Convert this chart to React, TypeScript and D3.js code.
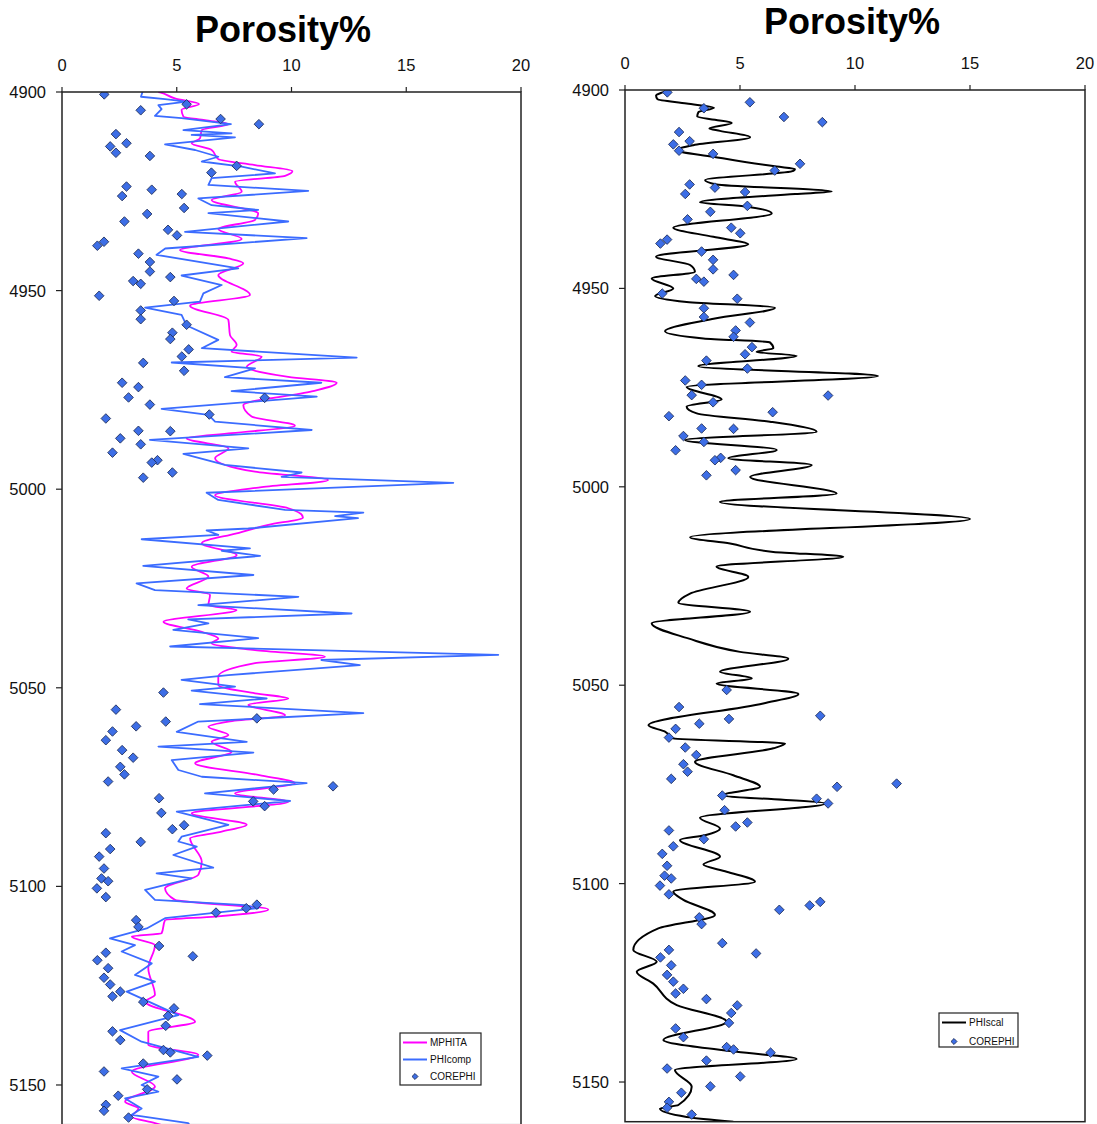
import React from 'react';
import * as d3 from 'd3';

const DEPTH_TICKS = [4900, 4950, 5000, 5050, 5100, 5150];
const POROSITY_TICKS = [0, 5, 10, 15, 20];
const TITLE = 'Porosity%';

// [depth, porosity]
const COREPHI: [number, number][] = [
  [4900.6, 1.84], [4903.1, 5.43], [4904.6, 3.43], [4906.8, 6.91], [4908.1, 8.58], [4910.6, 2.35],
  [4912.9, 2.81], [4913.7, 2.1], [4915.3, 2.35], [4916.1, 3.83], [4918.6, 7.61], [4920.3, 6.51],
  [4923.8, 2.81], [4924.6, 3.91], [4925.7, 5.22], [4926.2, 2.62], [4929.2, 5.32], [4930.7, 3.71],
  [4932.6, 2.72], [4934.7, 4.62], [4936.1, 5.01], [4937.7, 1.83], [4938.7, 1.54], [4940.7, 3.33],
  [4942.8, 3.83], [4945.2, 3.83], [4946.6, 4.72], [4947.6, 3.1], [4948.3, 3.43], [4951.3, 1.62],
  [4952.6, 4.88], [4955.0, 3.43], [4957.2, 3.43], [4958.6, 5.43], [4960.6, 4.81], [4962.2, 4.72],
  [4964.8, 5.52], [4966.6, 5.22], [4968.2, 3.54], [4970.2, 5.32], [4973.2, 2.62], [4974.3, 3.33],
  [4976.9, 2.9], [4977.0, 8.83], [4978.7, 3.83], [4981.2, 6.42], [4982.2, 1.91], [4985.3, 3.33],
  [4985.4, 4.72], [4987.2, 2.54], [4988.7, 3.43], [4990.8, 2.2], [4992.7, 4.16], [4993.3, 3.91],
  [4995.8, 4.81], [4997.1, 3.54], [5051.2, 4.42], [5055.5, 2.35], [5057.7, 8.49], [5058.5, 4.52],
  [5059.7, 3.23], [5061.0, 2.2], [5063.2, 1.91], [5065.7, 2.62], [5067.6, 3.1], [5069.9, 2.54],
  [5071.8, 2.72], [5073.6, 2.01], [5074.8, 11.81], [5075.6, 9.22], [5077.8, 4.23], [5078.6, 8.33],
  [5079.8, 8.83], [5081.5, 4.33], [5084.6, 5.32], [5085.6, 4.81], [5086.6, 1.91], [5088.8, 3.43],
  [5090.6, 2.1], [5092.5, 1.62], [5095.5, 1.83], [5098.0, 1.72], [5098.7, 2.01], [5100.5, 1.52],
  [5102.7, 1.91], [5104.6, 8.49], [5105.5, 8.03], [5106.6, 6.71], [5108.5, 3.23], [5110.2, 3.33],
  [5115.0, 4.23], [5116.7, 1.91], [5117.6, 5.7], [5118.6, 1.54], [5120.6, 2.01], [5123.0, 1.83],
  [5124.7, 2.1], [5126.5, 2.54], [5127.7, 2.2], [5129.1, 3.54], [5130.7, 4.88], [5132.6, 4.62],
  [5135.1, 4.52], [5136.5, 2.2], [5138.7, 2.54], [5141.2, 4.42], [5141.8, 4.72], [5142.6, 6.33],
  [5144.6, 3.54], [5146.6, 1.83], [5148.6, 5.01], [5151.1, 3.71], [5152.7, 2.45], [5155.0, 1.91],
  [5156.5, 1.83], [5158.2, 2.9],
];

const MPHITA: [number, number][] = [
  [4900.0, 4.2], [4900.1, 4.27], [4901.6, 4.92], [4903.0, 5.97], [4904.5, 5.21], [4906.2, 5.29],
  [4907.1, 6.23], [4908.1, 7.25], [4909.6, 6.09], [4911.7, 6.01], [4912.9, 5.65], [4914.6, 6.52],
  [4916.9, 6.81], [4918.4, 8.41], [4919.9, 10.04], [4921.1, 9.72], [4922.6, 7.54], [4925.1, 7.83],
  [4927.2, 6.52], [4930.6, 8.55], [4932.2, 8.41], [4934.5, 6.81], [4937.0, 7.83], [4939.8, 5.14],
  [4941.9, 7.25], [4943.1, 7.9], [4946.1, 6.81], [4951.1, 8.19], [4953.8, 5.58], [4957.4, 7.25],
  [4961.2, 7.32], [4963.7, 7.61], [4965.4, 7.39], [4966.6, 8.7], [4969.2, 8.05], [4971.7, 9.86],
  [4973.2, 11.97], [4975.4, 10.88], [4978.8, 7.9], [4981.7, 8.26], [4984.0, 10.15], [4985.9, 7.39],
  [4987.2, 5.43], [4989.7, 7.25], [4992.2, 6.67], [4995.6, 8.41], [4997.7, 11.6], [4999.5, 8.7],
  [5001.5, 6.67], [5004.8, 9.86], [5007.1, 10.5], [5009.0, 8.99], [5011.1, 7.61], [5013.6, 6.09],
  [5016.6, 7.61], [5019.5, 5.65], [5022.0, 6.38], [5025.0, 5.43], [5026.6, 6.45], [5029.2, 6.38],
  [5030.4, 7.61], [5033.4, 4.42], [5035.9, 6.09], [5037.6, 6.81], [5038.8, 6.52], [5040.5, 8.41],
  [5042.2, 11.46], [5043.8, 8.41], [5047.2, 6.81], [5049.3, 6.81], [5051.4, 8.41], [5052.7, 9.86],
  [5054.3, 8.12], [5056.9, 9.72], [5058.5, 7.25], [5059.8, 6.38], [5061.9, 7.25], [5063.6, 6.52],
  [5066.1, 7.39], [5069.0, 5.8], [5072.0, 8.6], [5074.0, 10.15], [5076.6, 7.54], [5078.7, 9.86],
  [5081.6, 5.65], [5084.5, 8.05], [5086.2, 6.96], [5087.9, 5.58], [5093.8, 6.09], [5097.1, 5.94],
  [5100.5, 4.49], [5103.4, 4.92], [5105.8, 8.99], [5107.6, 6.67], [5108.5, 4.49], [5111.8, 4.34],
  [5112.6, 3.04], [5114.8, 4.05], [5120.6, 3.76], [5127.3, 4.05], [5129.0, 3.62], [5134.1, 5.8],
  [5136.6, 3.76], [5139.9, 3.76], [5142.4, 5.94], [5146.6, 3.04], [5150.4, 4.05], [5154.2, 2.75],
  [5155.9, 3.33], [5158.0, 3.04], [5159.6, 4.05], [5160.5, 4.6],
];

const PHICOMP: [number, number][] = [
  [4900.0, 3.5], [4900.1, 3.5], [4901.2, 3.44], [4901.8, 4.49], [4902.4, 5.43], [4903.3, 4.2],
  [4904.3, 4.34], [4906.0, 4.05], [4906.6, 5.21], [4908.1, 7.36], [4909.6, 5.29], [4910.4, 7.39],
  [4910.8, 5.65], [4911.4, 7.54], [4913.2, 4.49], [4914.6, 5.8], [4916.3, 6.81], [4917.5, 6.09],
  [4918.8, 7.83], [4920.5, 9.28], [4921.7, 6.52], [4923.4, 6.38], [4924.9, 10.73], [4926.8, 5.94],
  [4928.5, 6.52], [4929.7, 8.55], [4930.5, 6.38], [4932.6, 9.86], [4935.2, 5.36], [4936.8, 10.66],
  [4939.4, 4.5], [4941.0, 4.12], [4944.4, 7.68], [4946.2, 5.21], [4948.6, 6.96], [4950.7, 6.16],
  [4952.8, 6.01], [4954.3, 3.62], [4956.1, 5.21], [4958.8, 5.43], [4962.4, 6.81], [4964.5, 6.09],
  [4966.9, 12.84], [4968.1, 4.78], [4969.6, 8.41], [4971.8, 7.1], [4973.2, 11.3], [4975.3, 7.39],
  [4976.7, 11.1], [4979.8, 4.34], [4981.3, 6.38], [4983.0, 6.67], [4985.1, 10.88], [4987.6, 3.83],
  [4989.7, 8.12], [4991.1, 5.29], [4993.9, 7.1], [4995.8, 10.44], [4996.9, 9.57], [4998.4, 17.05],
  [5000.9, 6.3], [5002.7, 6.81], [5005.2, 9.72], [5005.9, 13.13], [5006.8, 11.9], [5007.3, 12.9],
  [5009.9, 8.12], [5010.4, 6.3], [5011.5, 6.81], [5012.6, 3.47], [5014.9, 8.19], [5015.5, 6.96],
  [5016.8, 8.63], [5019.3, 3.54], [5021.6, 8.34], [5023.7, 3.25], [5025.4, 4.05], [5027.1, 10.3],
  [5029.2, 5.94], [5031.3, 12.62], [5032.8, 5.5], [5033.8, 6.38], [5035.4, 4.85], [5037.5, 8.55],
  [5039.6, 4.71], [5041.7, 19.01], [5043.0, 11.3], [5044.3, 12.98], [5046.8, 7.25], [5048.0, 5.21],
  [5049.7, 7.54], [5050.7, 5.65], [5052.7, 8.92], [5054.1, 6.01], [5056.4, 13.13], [5058.5, 5.94],
  [5061.1, 5.0], [5063.6, 8.05], [5064.8, 4.2], [5066.3, 8.34], [5068.2, 4.78], [5070.7, 5.07],
  [5072.4, 6.09], [5074.0, 10.66], [5076.6, 6.23], [5078.5, 9.94], [5081.2, 5.0], [5084.5, 7.25],
  [5087.5, 5.21], [5088.7, 5.07], [5090.0, 5.87], [5092.1, 4.85], [5095.3, 6.59], [5096.7, 4.12],
  [5098.0, 5.65], [5100.9, 3.62], [5103.4, 4.05], [5104.7, 7.97], [5105.5, 8.55], [5108.0, 4.49],
  [5110.6, 3.69], [5113.1, 2.09], [5114.8, 3.18], [5116.4, 2.6], [5119.4, 3.91], [5122.3, 3.18],
  [5124.0, 4.05], [5126.5, 2.82], [5132.4, 5.07], [5136.2, 2.53], [5139.1, 3.47], [5142.9, 5.94],
  [5145.8, 2.6], [5147.9, 4.2], [5150.0, 3.47], [5151.7, 4.2], [5153.4, 2.75], [5155.9, 3.47],
  [5157.5, 3.04], [5159.6, 5.5], [5160.5, 5.6],
];

const PHISCAL: [number, number][] = [
  [4900.0, 1.8], [4900.3, 1.74], [4901.4, 1.35], [4902.3, 1.41], [4903.4, 2.68], [4904.5, 3.87],
  [4905.6, 3.19], [4906.7, 3.14], [4907.5, 3.91], [4908.3, 4.64], [4909.7, 3.67], [4910.3, 4.13],
  [4911.9, 5.44], [4913.9, 2.97], [4915.2, 2.25], [4916.8, 3.84], [4919.3, 6.59], [4919.9, 7.39],
  [4920.4, 7.32], [4922.7, 3.48], [4923.8, 3.99], [4925.6, 8.99], [4926.2, 7.4], [4928.3, 3.26],
  [4929.4, 5.29], [4931.1, 6.38], [4934.7, 2.1], [4937.0, 3.84], [4938.9, 5.36], [4942.0, 1.35],
  [4944.1, 2.83], [4945.8, 3.04], [4947.5, 1.16], [4950.0, 2.1], [4951.9, 1.31], [4953.4, 2.68],
  [4954.9, 6.52], [4957.6, 3.91], [4960.8, 1.74], [4962.6, 3.41], [4963.6, 6.3], [4965.1, 6.45],
  [4966.0, 5.72], [4967.0, 7.46], [4969.6, 3.19], [4972.1, 11.0], [4974.8, 2.68], [4978.0, 4.2],
  [4979.8, 2.68], [4981.5, 3.12], [4983.6, 6.3], [4986.1, 8.33], [4988.2, 2.61], [4990.7, 6.6],
  [4992.8, 4.49], [4994.5, 8.12], [4997.5, 5.44], [5001.7, 9.2], [5003.8, 4.13], [5008.1, 15.0],
  [5012.7, 2.83], [5014.3, 4.57], [5016.4, 6.45], [5017.6, 9.49], [5020.1, 3.98], [5022.7, 5.36],
  [5026.9, 2.83], [5029.2, 2.32], [5031.5, 5.44], [5034.4, 1.16], [5038.2, 2.75], [5041.6, 5.0],
  [5043.3, 7.1], [5046.6, 4.13], [5048.3, 5.51], [5049.6, 3.98], [5052.2, 7.54], [5054.6, 6.01],
  [5060.1, 1.02], [5061.7, 1.74], [5063.4, 2.1], [5064.7, 6.96], [5065.9, 6.45], [5069.3, 3.04],
  [5072.7, 4.71], [5075.6, 5.87], [5077.7, 4.28], [5079.8, 8.7], [5083.4, 3.26], [5086.1, 4.13],
  [5087.8, 3.48], [5089.0, 2.39], [5093.2, 4.13], [5095.2, 3.41], [5097.0, 4.42], [5099.5, 5.65],
  [5102.0, 2.1], [5104.1, 2.54], [5107.9, 3.91], [5111.3, 1.45], [5116.7, 0.36], [5119.7, 1.38],
  [5122.2, 0.51], [5125.2, 1.23], [5130.6, 2.25], [5134.8, 4.42], [5139.4, 1.67], [5142.4, 4.86],
  [5144.2, 7.46], [5147.0, 2.17], [5151.2, 2.9], [5155.8, 2.32], [5156.7, 1.52], [5158.8, 2.68],
  [5160.0, 4.71],
];

const FONT = 'Arial, "Liberation Sans", Helvetica, sans-serif';
const DIAMOND_FILL = '#3d6ee6';
const DIAMOND_STROKE = '#1c2a55';

type LineSpec = { data: [number, number][]; color: string; width: number; curve: d3.CurveFactory };
type LegendItem = { label: string; kind: 'line' | 'diamond'; color: string; width?: number };

function Diamond({ x, y, size }: { x: number; y: number; size: number }) {
  const p = d3.symbol().type(d3.symbolSquare).size(size)() || '';
  return (
    <path d={p} transform={`translate(${x},${y}) rotate(45)`} fill={DIAMOND_FILL} stroke={DIAMOND_STROKE} strokeWidth={0.8} />
  );
}

function Panel(props: {
  id: string; x0: number; x1: number; y0: number; y1: number; titleX: number; titleY: number;
  lines: LineSpec[]; legend: { x: number; y: number; w: number; h: number; rowH: number; items: LegendItem[] };
}) {
  const { id, x0, x1, y0, y1, titleX, titleY, lines, legend } = props;
  const xs = d3.scaleLinear().domain([0, 20]).range([x0, x1]);
  const ys = d3.scaleLinear().domain([4900, 5160]).range([y0, y1]);
  return (
    <g>
      <defs>
        <clipPath id={id}>
          <rect x={x0} y={y0} width={x1 - x0} height={y1 - y0} />
        </clipPath>
      </defs>
      <text x={titleX} y={titleY} textAnchor="middle" fontFamily={FONT} fontWeight="bold" fontSize={36} fill="#000">{TITLE}</text>
      {POROSITY_TICKS.map(t => (
        <g key={'x' + t}>
          <line x1={xs(t)} x2={xs(t)} y1={y0} y2={y0 - 5} stroke="#222" strokeWidth={1.2} />
          <text x={xs(t)} y={y0 - 21} textAnchor="middle" fontFamily={FONT} fontSize={16.5} fill="#111">{t}</text>
        </g>
      ))}
      {DEPTH_TICKS.map(t => (
        <g key={'y' + t}>
          <line x1={x0 - 6} x2={x0} y1={ys(t)} y2={ys(t)} stroke="#222" strokeWidth={1.2} />
          <text x={x0 - 16} y={ys(t)} dy="0.36em" textAnchor="end" fontFamily={FONT} fontSize={16.5} fill="#111">{t}</text>
        </g>
      ))}
      <g clipPath={`url(#${id})`}>
        {lines.map((l, i) => {
          const gen = d3.line<[number, number]>().x(d => xs(d[1])).y(d => ys(d[0])).curve(l.curve);
          return <path key={i} d={gen(l.data) || ''} fill="none" stroke={l.color} strokeWidth={l.width} strokeLinejoin="round" />;
        })}
        {COREPHI.map((d, i) => <Diamond key={i} x={xs(d[1])} y={ys(d[0])} size={46} />)}
      </g>
      <rect x={x0} y={y0} width={x1 - x0} height={y1 - y0} fill="none" stroke="#222" strokeWidth={1.5} />
      <g>
        <rect x={legend.x} y={legend.y} width={legend.w} height={legend.h} fill="#fff" stroke="#222" strokeWidth={1.2} />
        {legend.items.map((it, i) => {
          const cy = legend.y + 9.5 + i * legend.rowH;
          return (
            <g key={it.label}>
              {it.kind === 'line'
                ? <line x1={legend.x + 3} x2={legend.x + 27} y1={cy} y2={cy} stroke={it.color} strokeWidth={it.width || 2} />
                : <Diamond x={legend.x + 15} y={cy} size={18} />}
              <text x={legend.x + 30} y={cy} dy="0.35em" fontFamily={FONT} fontSize={10} fill="#111">{it.label}</text>
            </g>
          );
        })}
      </g>
    </g>
  );
}

export default function App() {
  return (
    <svg width={1097} height={1124} style={{ position: 'absolute', left: 0, top: 0, background: '#fff' }}>
      <rect x={0} y={0} width={1097} height={1124} fill="#fff" />
      <Panel
        id="clipL" x0={62} x1={521} y0={92} y1={1124.7} titleX={283} titleY={42}
        lines={[
          { data: MPHITA, color: '#ff00ff', width: 1.8, curve: d3.curveMonotoneY },
          { data: PHICOMP, color: '#3b6cff', width: 1.8, curve: d3.curveLinear },
        ]}
        legend={{
          x: 400, y: 1033, w: 81, h: 52, rowH: 17,
          items: [
            { label: 'MPHITA', kind: 'line', color: '#ff00ff' },
            { label: 'PHIcomp', kind: 'line', color: '#3b6cff' },
            { label: 'COREPHI', kind: 'diamond', color: DIAMOND_FILL },
          ],
        }}
      />
      <Panel
        id="clipR" x0={625} x1={1085} y0={90} y1={1121.7} titleX={852} titleY={34}
        lines={[{ data: PHISCAL, color: '#000', width: 2, curve: d3.curveMonotoneY }]}
        legend={{
          x: 939, y: 1013, w: 79, h: 34, rowH: 19,
          items: [
            { label: 'PHIscal', kind: 'line', color: '#000' },
            { label: 'COREPHI', kind: 'diamond', color: DIAMOND_FILL },
          ],
        }}
      />
    </svg>
  );
}
